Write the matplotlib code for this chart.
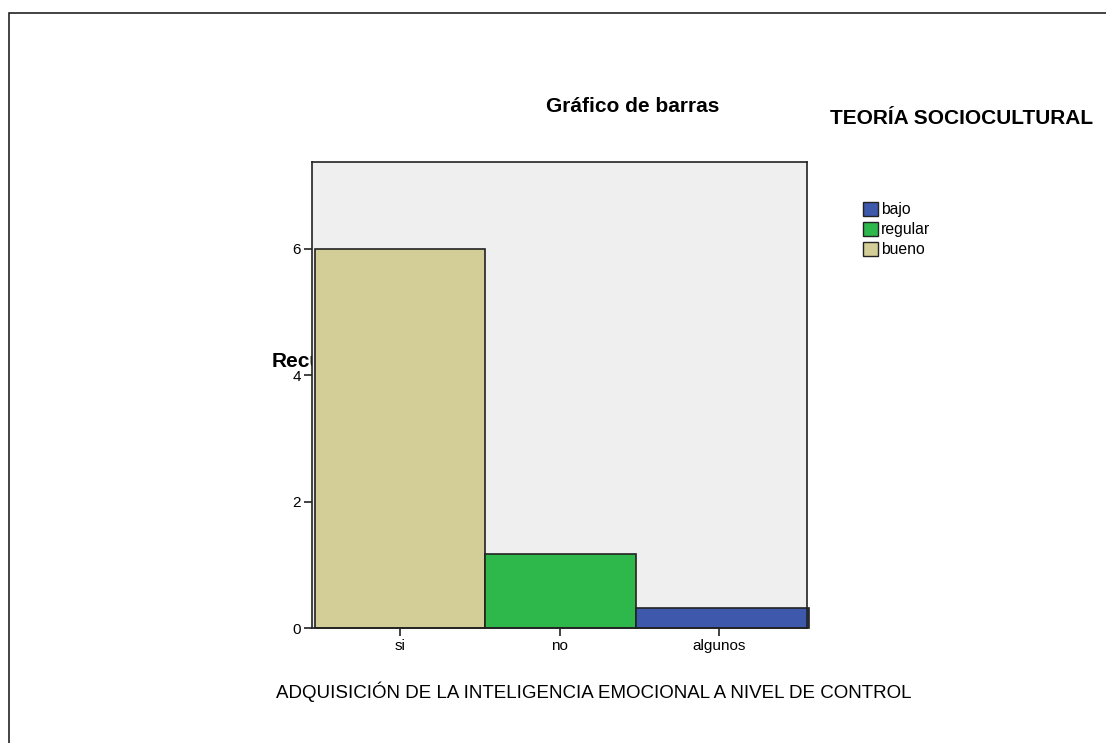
"""
SPSS style bar chart: TEORIA SOCIOCULTURAL vs control level
"""

### Import modules
import numpy as np
import matplotlib
matplotlib.use('Agg')
import matplotlib.pyplot as plt
from matplotlib.patches import Rectangle, Patch

### Data
categories = ['si', 'no', 'algunos']
counts = [6.0, 1.17, 0.31]
groups = ['bueno', 'regular', 'bajo']
legend_order = ['bajo', 'regular', 'bueno']
yticks = [0, 2, 4, 6]

### Style
colors = {'bajo': '#3E58AC', 'regular': '#2EB84B', 'bueno': '#D3CE98'}
bar_left = [-0.533, 0.533, 1.48]
bar_right = [0.533, 1.48, 2.565]

plt.rcParams['font.family'] = ['Liberation Sans', 'DejaVu Sans']

fig = plt.figure(figsize=(11.06, 7.43), dpi=100)
W, H = 1106., 743.

### Outer frame (runs off the right and bottom edges)
fig.patches.append(Rectangle((9/W, -0.05), 1.2, 1 - 13/H + 0.05,
                             transform=fig.transFigure, fill=False,
                             edgecolor='#222222', linewidth=1.2,
                             clip_on=False, zorder=-5))

### Axes
ax = fig.add_axes([312/W, 1 - 628/H, (807-312)/W, (628-162)/H])
ax.set_facecolor('#EFEFEF')
for s in ax.spines.values():
    s.set_color('#222222')
    s.set_linewidth(1.2)

x = np.arange(len(categories))
for i in range(len(categories)):
    ax.bar(bar_left[i], counts[i], width=bar_right[i]-bar_left[i],
           align='edge', color=colors[groups[i]], edgecolor='#222222',
           linewidth=1.2, clip_on=False, zorder=2)

ax.set_xlim(-0.552, 2.552)
ax.set_ylim(0, 7.37)
ax.set_xticks(x)
ax.set_xticklabels(categories, fontsize=11)
ax.set_yticks(yticks)
ax.set_yticklabels([str(t) for t in yticks], fontsize=11)
ax.tick_params('both', length=6, width=1.2, direction='out', color='#222222',
               pad=2)

### Y label partly hidden under the plot area, as in the original
fig.text(272/W, 1 - 362/H, 'Recuento', fontsize=15, fontweight='bold',
         ha='left', va='center', zorder=-1)

fig.text(633/W, 1 - 106/H, 'Gráfico de barras', fontsize=15,
         fontweight='bold', ha='center', va='center')
fig.text(962/W, 1 - 119/H, 'TEORÍA SOCIOCULTURAL', fontsize=15,
         fontweight='bold', ha='center', va='center')
fig.text(594/W, 1 - 692/H,
         'ADQUISICIÓN DE LA INTELIGENCIA EMOCIONAL A NIVEL DE CONTROL',
         fontsize=13.5, ha='center', va='center')

handles = [Patch(facecolor=colors[g], edgecolor='#222222', linewidth=1)
           for g in legend_order]
fig.legend(handles, legend_order, loc='upper left',
           bbox_to_anchor=(852/W, 1 - 191/H), frameon=False, fontsize=11.3,
           handlelength=0.95, handleheight=1.0, handletextpad=0.2,
           labelspacing=0.28, borderpad=0.2)

plt.savefig('out.png', dpi=100)
